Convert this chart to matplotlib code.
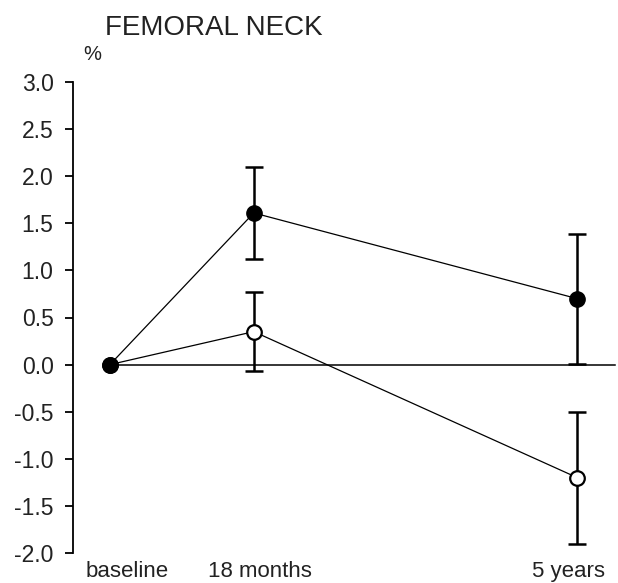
import matplotlib
matplotlib.use("Agg")
import matplotlib.pyplot as plt
import matplotlib.transforms as mtransforms

plt.rcParams['font.family'] = ['Liberation Sans', 'DejaVu Sans']
plt.rcParams['axes.unicode_minus'] = False

## Data ##
visit_labels = ["baseline", "18 months", "5 years"]
visit_x = [0, 18, 58.5]          # months after baseline

filled_mean = [0.0, 1.61, 0.70]
filled_err = [0.0, 0.49, 0.69]

open_mean = [0.0, 0.35, -1.20]
open_err = [0.0, 0.42, 0.70]

y_ticks = [3.0, 2.5, 2.0, 1.5, 1.0, 0.5, 0.0, -0.5, -1.0, -1.5, -2.0]

txt_color = "#222222"

## Figure ##
fig = plt.figure(figsize=(6.18, 5.83), dpi=100)
ax = fig.add_axes([73/618, 30/583, 545/618, 471/583])

# error bars under the markers
ax.errorbar(visit_x[1:], filled_mean[1:], yerr=filled_err[1:], fmt='none',
            ecolor='black', elinewidth=1.8, capsize=6.5, capthick=1.8, zorder=2)
ax.errorbar(visit_x[1:], open_mean[1:], yerr=open_err[1:], fmt='none',
            ecolor='black', elinewidth=1.8, capsize=6.5, capthick=1.8, zorder=2)

# zero reference line
ax.axhline(0, xmin=(0 + 4.625) / (63.6 + 4.625), xmax=0.995, color='black', lw=1.1, zorder=1)

ax.plot(visit_x, open_mean, color='black', lw=0.9, marker='o', markersize=10.5,
        markerfacecolor='white', markeredgecolor='black', markeredgewidth=1.6, zorder=3)
ax.plot(visit_x, filled_mean, color='black', lw=0.9, marker='o', markersize=11,
        markerfacecolor='black', markeredgecolor='black', zorder=4)

ax.set_xlim(-4.625, 63.6)
ax.set_ylim(-2.0, 3.0)

for side in ['top', 'right', 'bottom']:
    ax.spines[side].set_visible(False)
ax.spines['left'].set_linewidth(1.3)

ax.set_yticks(y_ticks)
ax.set_yticklabels(['%.1f' % v for v in y_ticks])
ax.tick_params(axis='y', direction='out', length=5.5, width=1.3, pad=8.5,
               labelsize=16.5, labelcolor=txt_color)

ax.set_xticks(visit_x)
ax.set_xticklabels(visit_labels)
ax.tick_params(axis='x', length=0, pad=6, labelsize=16, labelcolor=txt_color)
label_shift_px = [17, 6, -9]
for lab, dx in zip(ax.get_xticklabels(), label_shift_px):
    lab.set_transform(lab.get_transform() +
                      mtransforms.ScaledTranslation(dx / 100, 0, fig.dpi_scale_trans))

fig.text(105/618, 1 - 28/583, "FEMORAL NECK", ha='left', va='center',
         fontsize=20, color=txt_color)
fig.text(92/618, 1 - 55/583, "%", ha='center', va='center',
         fontsize=14.5, color=txt_color)

plt.savefig("out.png", dpi=100)
